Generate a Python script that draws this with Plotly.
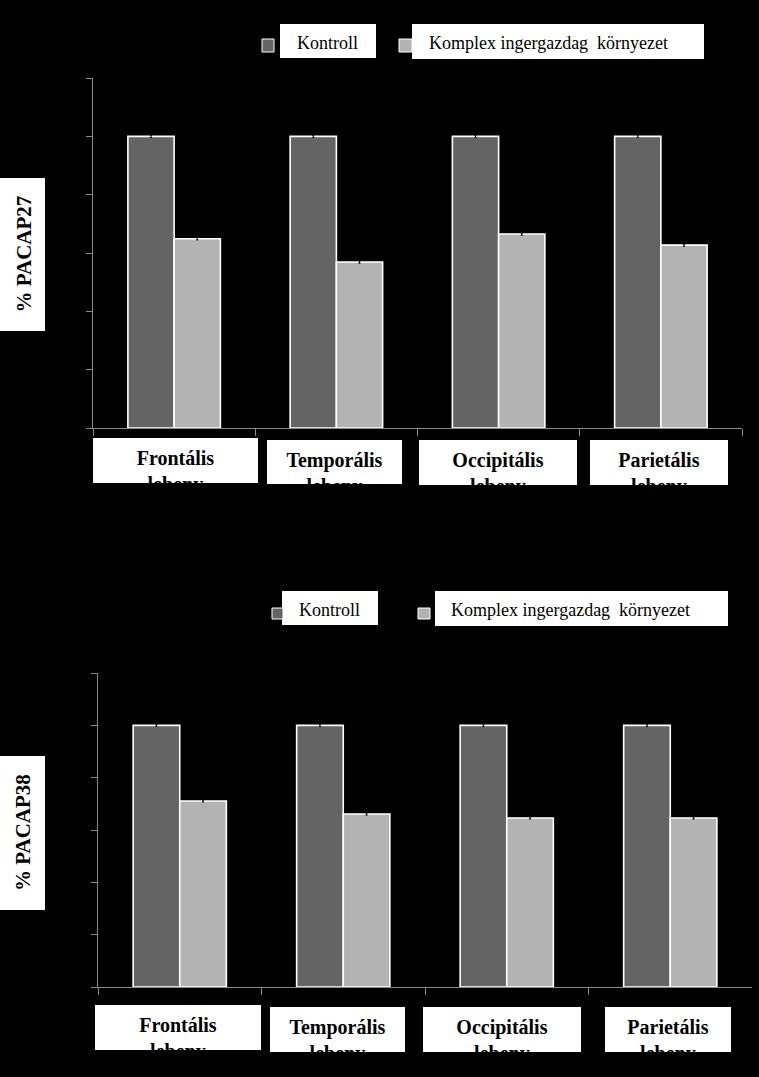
import plotly.graph_objects as go

# ---------------- data ----------------
categories = ["Frontális lebeny", "Temporális lebeny", "Occipitális lebeny", "Parietális lebeny"]
cat_line1 = ["Frontális", "Temporális", "Occipitális", "Parietális"]
cat_line2 = ["lebeny", "lebeny", "lebeny", "lebeny"]
series_names = ["Kontroll", "Komplex ingergazdag\u00a0 környezet"]

pacap27_kontroll = [100, 100, 100, 100]
pacap27_komplex = [64.9, 56.9, 66.5, 62.7]
pacap27_err_kontroll = [0.4, 0.4, 0.4, 0.4]
pacap27_err_komplex = [0.4, 0.4, 0.4, 0.4]

pacap38_kontroll = [100, 100, 100, 100]
pacap38_komplex = [71.1, 66.1, 64.6, 64.6]
pacap38_err_kontroll = [0.4, 0.4, 0.4, 0.4]
pacap38_err_komplex = [0.4, 0.4, 0.4, 0.4]

y_titles = ["% PACAP27", "% PACAP38"]
y_range = [0, 120]
y_dtick = 20

# ---------------- styling ----------------
W, H = 759, 1077
DARK = "#646464"
LIGHT = "#b3b3b3"
AXIS = "#8a8a8a"
SERIF = "Liberation Serif, Times New Roman, serif"


def px(x):
    return x / W


def py(y):
    return 1 - y / H


fig = go.Figure()


def add_bars(xa, ya, kon, kom, ekon, ekom):
    for name, vals, errs, col in [
        (series_names[0], kon, ekon, DARK),
        (series_names[1], kom, ekom, LIGHT),
    ]:
        fig.add_trace(go.Bar(
            x=categories, y=vals, name=name, xaxis=xa, yaxis=ya,
            marker=dict(color=col, line=dict(color="white", width=1.6)),
            error_y=dict(type="data", array=errs, visible=True,
                         color="black", thickness=1, width=1),
            showlegend=False,
        ))


add_bars("x", "y", pacap27_kontroll, pacap27_komplex, pacap27_err_kontroll, pacap27_err_komplex)
add_bars("x2", "y2", pacap38_kontroll, pacap38_komplex, pacap38_err_kontroll, pacap38_err_komplex)

xax = dict(type="category", showline=True, linecolor=AXIS, linewidth=1,
           ticks="outside", tickson="boundaries", ticklen=7, tickcolor=AXIS,
           showticklabels=False, showgrid=False, zeroline=False)
yax = dict(range=y_range, dtick=y_dtick, showline=True, linecolor=AXIS, linewidth=1,
           ticks="outside", ticklen=6, tickcolor=AXIS,
           showticklabels=False, showgrid=False, zeroline=False)

# plot areas (pixels): top 93..742 x 78..428 ; bottom 98..752 x 673..987
fig.update_layout(
    xaxis=dict(xax, domain=[px(93), px(742)], anchor="y"),
    yaxis=dict(yax, domain=[py(428), py(78)], anchor="x"),
    xaxis2=dict(xax, domain=[px(98), px(752)], anchor="y2"),
    yaxis2=dict(yax, domain=[py(987), py(673)], anchor="x2"),
)

shapes = []
annotations = []


def white_rect(x0, y0, x1, y1):
    shapes.append(dict(type="rect", xref="paper", yref="paper",
                       x0=px(x0), x1=px(x1), y0=py(y1), y1=py(y0),
                       fillcolor="white", line=dict(width=0), layer="above"))


def swatch(x0, y0, x1, y1, col):
    shapes.append(dict(type="rect", xref="paper", yref="paper",
                       x0=px(x0), x1=px(x1), y0=py(y1), y1=py(y0),
                       fillcolor=col, line=dict(color="white", width=1), layer="above"))


# category label boxes (text clipped at the box bottom)
top_boxes = [(93, 438, 258, 483), (267, 440, 402, 484), (419, 440, 577, 485), (590, 440, 728, 485)]
bot_boxes = [(95, 1005, 261, 1050), (270, 1007, 405, 1052), (423, 1007, 581, 1052), (605, 1007, 731, 1052)]
for boxes in (top_boxes, bot_boxes):
    for (x0, y0, x1, y1), l1, l2 in zip(boxes, cat_line1, cat_line2):
        white_rect(x0, y0, x1, y1)
        off = 8
        annotations.append(dict(
            xref="paper", yref="paper", x=px((x0 + x1) / 2), y=py(y0 + off),
            xanchor="center", yanchor="top", showarrow=False,
            text=l1 + "<br>" + l2, align="center", valign="top",
            width=x1 - x0, height=(y1 - y0) - off, borderpad=0,
            font=dict(family=SERIF, size=20, color="black", weight="bold"),
        ))

# y-axis title boxes
for (x0, y0, x1, y1), t in zip([(0, 178, 45, 331), (0, 756, 45, 910)], y_titles):
    white_rect(x0, y0, x1, y1)
    annotations.append(dict(
        xref="paper", yref="paper", x=px(23), y=py((y0 + y1) / 2),
        xanchor="center", yanchor="middle", showarrow=False, textangle=-90,
        text=t, font=dict(family=SERIF, size=21, color="black", weight="bold"),
    ))

# legends
legend_specs = [
    # (swatch box, colour, text box, text left, text center y)
    ((262, 39, 274, 52), DARK, (280, 24, 376, 58), 295, 43),
    ((399, 39, 412, 52), LIGHT, (412, 24, 704, 59), 427, 43),
    ((272, 608, 283, 619), DARK, (282, 591, 378, 625), 297, 610),
    ((418, 608, 430, 619), LIGHT, (435, 591, 728, 626), 449, 610),
]
for i, (sw, col, tb, tx, ty) in enumerate(legend_specs):
    white_rect(*tb)
    swatch(*sw, col)
    annotations.append(dict(
        xref="paper", yref="paper", x=px(tx), y=py(ty),
        xanchor="left", yanchor="middle", showarrow=False,
        text=series_names[i % 2], font=dict(family=SERIF, size=18, color="black"),
    ))

fig.update_layout(
    width=W, height=H,
    margin=dict(l=0, r=0, t=0, b=0),
    paper_bgcolor="black", plot_bgcolor="black",
    barmode="group", bargap=0.43, bargroupgap=0,
    showlegend=False,
    shapes=shapes, annotations=annotations,
)

fig.write_html(
    "out.html",
    config={"displayModeBar": False},
    post_script="document.body.style.margin='0px';document.body.style.background='black';",
)
